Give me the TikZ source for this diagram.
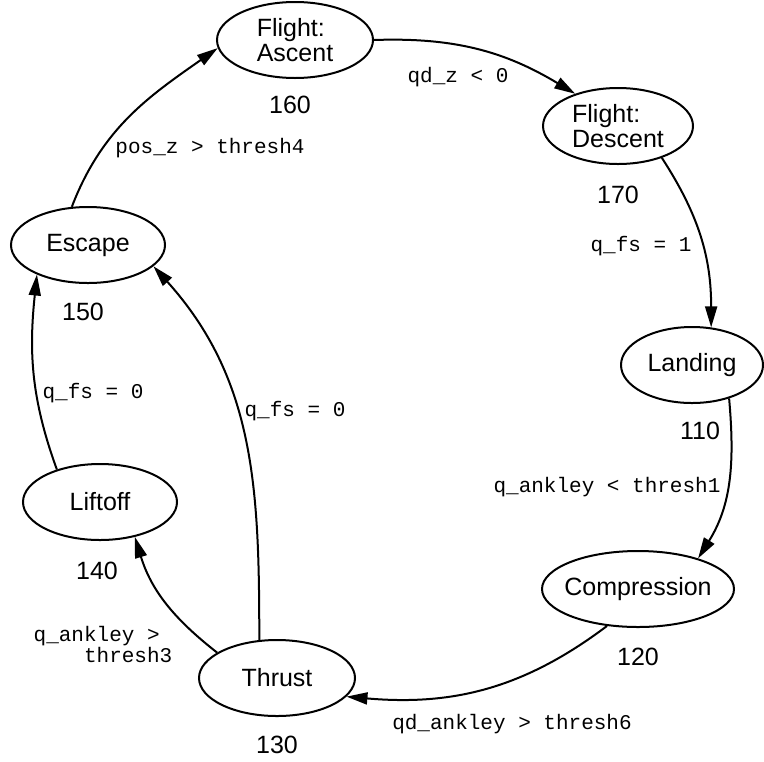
\documentclass[tikz,border=0pt]{standalone}
\usepackage{fontspec}
\setmainfont{Liberation Sans}
\setmonofont{Liberation Mono}
\usetikzlibrary{shapes.geometric,arrows.meta}

\begin{document}
\begin{tikzpicture}[x=0.5pt,y=-0.5pt,
    state/.style={draw, ellipse, line width=1pt, inner sep=0pt,
      minimum width=78pt, minimum height=38pt,
      font=\fontsize{12.5}{12.5}\selectfont},
    num/.style={font=\fontsize{12.5}{12.5}\selectfont, inner sep=0pt},
    cond/.style={font=\ttfamily\fontsize{10.5}{10.5}\selectfont, inner sep=0pt},
    trans/.style={-{Triangle[length=10.5pt,width=6pt]}, line width=1pt}]
  \useasboundingbox (0,0) rectangle (764,761);

  % states
  \node[state, align=left] (asc) at (295,40) {Flight:\\Ascent};
  \node[state, align=left, minimum width=75pt] (desc) at (618,126) {Flight:\\Descent};
  \node[state, minimum width=71pt] (lnd) at (692,365) {Landing};
  \node[state, minimum width=96pt, inner xsep=-4pt] (comp) at (638,589) {Compression};
  \node[state] (thr) at (277,678) {Thrust};
  \node[state, minimum width=77pt] (lift) at (100,502) {Liftoff};
  \node[state, minimum width=77pt] (esc) at (88,245) {Escape};

  % state numbers
  \node[num] (n160) at (290,105) {160};
  \node[num] (n170) at (618,195) {170};
  \node[num] (n110) at (700,431) {110};
  \node[num] (n120) at (638,657) {120};
  \node[num] (n130) at (277,745) {130};
  \node[num] (n140) at (97,571) {140};
  \node[num] (n150) at (83,312) {150};

  % transitions
  \draw[trans] (esc.113) to[out=69,in=215] (asc.186);
  \draw[trans] (asc.0) to[out=2,in=149] (desc.143);
  \draw[trans] (desc.-36) to[out=-57,in=90] (lnd.63);
  \draw[trans] (lnd.-42) to[out=-85,in=58] (comp.27);
  \draw[trans] (comp.-130) to[out=-143,in=-5] (thr.-15);
  \draw[trans] (thr.157) to[out=142,in=-73] (lift.-45);
  \draw[trans] (thr.115) to[out=90,in=-48] (esc.-18);
  \draw[trans] (lift.143) to[out=110,in=-96] (esc.-150);

  % conditions
  \node[cond] (c_esc_asc) at (210,148) {pos\_z > thresh4};
  \node[cond] (c_asc_desc) at (458,77) {qd\_z < 0};
  \node[cond] (c_desc_lnd) at (641,246) {q\_fs = 1};
  \node[cond] (c_lnd_comp) at (607,487) {q\_ankley < thresh1};
  \node[cond] (c_comp_thr) at (512,724) {qd\_ankley > thresh6};
  \node[cond, align=left] (c_thr_lift) at (103,644) {q\_ankley >\\\phantom{xxxx}thresh3};
  \node[cond] (c_thr_esc) at (295,411) {q\_fs = 0};
  \node[cond] (c_lift_esc) at (93,393) {q\_fs = 0};
\end{tikzpicture}
\end{document}
